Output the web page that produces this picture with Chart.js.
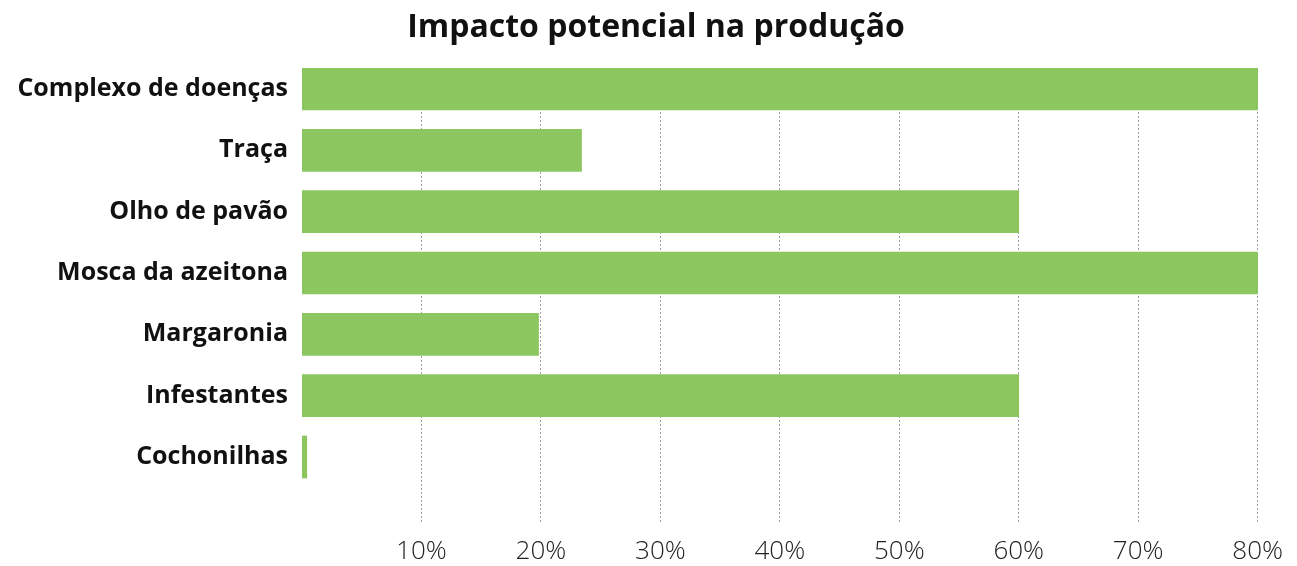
<!DOCTYPE html>
<html>
<head>
<meta charset="utf-8">
<script src="https://cdn.jsdelivr.net/npm/chart.js@4"></script>
<style>
  body { margin: 0; background: #fff; }
  #wrap { width: 1297px; height: 566px; }
</style>
</head>
<body>
<div id="wrap"><canvas id="grafico"></canvas></div>
<script>
// dados
var categorias = ["Complexo de doenças", "Traça", "Olho de pavão", "Mosca da azeitona", "Margaronia", "Infestantes", "Cochonilhas"];
var impacto = [80, 23.4, 60, 80, 19.8, 60, 0.4];
var marcas = [10, 20, 30, 40, 50, 60, 70, 80];

var pontos = impacto.map(function (v, i) {
  return { x: v, y: i };
});

new Chart(document.getElementById("grafico"), {
  type: 'bar',
  data: {
    datasets: [
      {
        label: "Impacto",
        backgroundColor: "#8bc65f",
        data: pontos,
        barThickness: 42
      }
    ]
  },
  options: {
    indexAxis: 'y',
    responsive: true,
    maintainAspectRatio: false,
    animation: false,
    layout: { padding: { left: 15, right: 0, top: 0, bottom: 0 } },
    plugins: {
      legend: { display: false },
      tooltip: { enabled: false },
      title: {
        display: true,
        text: 'Impacto potencial na produção',
        color: '#111',
        font: { family: 'Open Sans', size: 32, weight: 'bold', lineHeight: 1.2 },
        padding: { top: 9, bottom: 20.6 }
      }
    },
    scales: {
      x: {
        type: 'linear',
        min: 0,
        max: 83.2,
        z: 1,
        afterBuildTicks: function (s) {
          s.ticks = marcas.map(function (m) { return { value: m }; });
        },
        afterFit: function (s) { s.height = 44; },
        border: { display: false, dash: [2, 2] },
        grid: {
          color: '#a0a0a0',
          lineWidth: 1,
          drawTicks: false
        },
        ticks: {
          padding: 14,
          color: '#222',
          maxRotation: 0,
          font: { family: 'Open Sans', size: 26, weight: 300 },
          callback: function (v) { return v + '%'; }
        }
      },
      y: {
        type: 'linear',
        reverse: true,
        offset: false,
        min: -0.342,
        max: 7.06,
        afterBuildTicks: function (s) {
          s.ticks = categorias.map(function (c, i) { return { value: i }; });
        },
        afterFit: function (s) { s.width = 287; },
        border: { display: false },
        grid: { display: false, drawTicks: false },
        ticks: {
          padding: 14,
          color: '#111',
          font: { family: 'Open Sans', size: 25, weight: 'bold' },
          callback: function (v) { return categorias[v]; }
        }
      }
    }
  }
});
</script>
</body>
</html>
